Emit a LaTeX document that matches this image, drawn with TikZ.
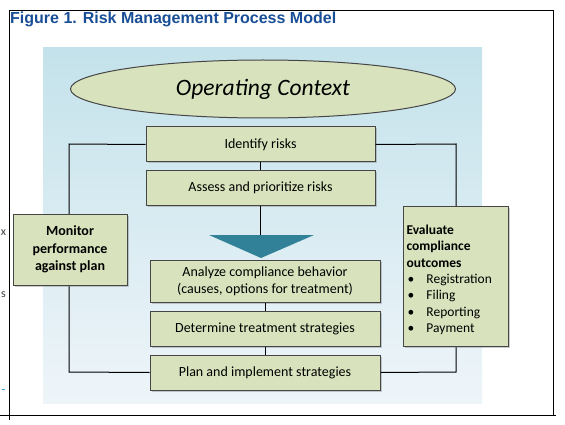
\documentclass[tikz,border=0pt]{standalone}
\usepackage{fontspec}
\setmainfont{Carlito}
\newfontfamily\titlefont{Liberation Sans}
\usetikzlibrary{shapes.geometric,shadows}
\definecolor{boxgreen}{RGB}{216,226,188}
\definecolor{boxline}{RGB}{70,70,70}
\definecolor{teal}{RGB}{49,130,152}
\definecolor{titleblue}{RGB}{24,78,150}
\definecolor{bgtop}{RGB}{196,226,235}
\definecolor{bgbot}{RGB}{238,245,249}
\newcommand{\bulitem}[1]{\makebox[20pt][l]{\hspace{1pt}\textbullet}#1}
\begin{document}
\begin{tikzpicture}[x=1pt,y=-1pt,
  stepbox/.style={draw=boxline, line width=1pt, fill=boxgreen, drop shadow={shadow xshift=1.5pt, shadow yshift=-1.5pt, opacity=0.4}, font=\fontsize{14}{17}\selectfont, align=center, inner sep=0pt},
  link/.style={draw=black, line width=1pt}]
\useasboundingbox (0,0) rectangle (565,425);
\fill[white] (0,0) rectangle (565,425);
% frame
\draw[line width=0.9pt] (9,420) -- (9,10) -- (553,10) -- (553,415);
\draw[line width=0.9pt] (0,415) -- (556,415);
\node[anchor=west, font=\titlefont\bfseries\fontsize{16}{18}\selectfont, text=titleblue, inner sep=0pt] (title) at (10,19.5) {Figure 1. Risk Management Process Model};
% stray fragments at left edge
\node[font=\fontsize{12}{14}\selectfont, text=black!75, inner sep=0pt] (fx) at (3.5,233) {x};
\node[font=\fontsize{12}{14}\selectfont, text=black!75, inner sep=0pt] (fs) at (3.5,295) {s};
\node[font=\fontsize{12}{14}\selectfont, text=cyan!70!blue, inner sep=0pt] (fd) at (3.5,392) {-};
% background
\shade[top color=bgtop, bottom color=bgbot] (43,48) rectangle (482,403);
% ellipse
\node[ellipse, draw=boxline, line width=1pt, fill=boxgreen, minimum width=385pt, minimum height=58pt, font=\itshape\fontsize{23.5}{26}\selectfont] (ctx) at (263,89) {Operating Context};
% loop corners
\coordinate (lt) at (69,144);
\coordinate (lb) at (69,372);
\coordinate (rt) at (456,144);
\coordinate (rb) at (456,372);
% boxes
\node[stepbox, minimum width=229pt, minimum height=35pt] (id) at (260.5,144.5) {Identify risks};
\node[stepbox, minimum width=229pt, minimum height=34pt] (as) at (260.5,188) {Assess and prioritize risks};
\fill[teal] (209,235) -- (314,235) -- (261,258) -- cycle;
\coordinate (tritop) at (260.5,235);
\node[stepbox, minimum width=230pt, minimum height=42pt] (an) at (265,281) {Analyze compliance behavior\\(causes, options for treatment)};
\node[stepbox, minimum width=230pt, minimum height=35pt] (dt) at (265,328.5) {Determine treatment strategies};
\node[stepbox, minimum width=230pt, minimum height=35pt] (pl) at (265,372.5) {Plan and implement strategies};
\draw[link] (id.west) -- (lt) -- (lb) -- (pl.west);
\draw[link] (id.east) -- (rt) -- (rb) -- (pl.east);
\draw[link] (id.south) -- (as.north);
\draw[link] (as.south) -- (tritop);
\draw[link] (an.south) -- (dt.north);
\draw[link] (dt.south) -- (pl.north);
% side boxes
\node[stepbox, minimum width=114pt, minimum height=71pt, font=\bfseries\fontsize{14}{17.5}\selectfont] (mon) at (70,249.5) {Monitor\\performance\\against plan};
\node[stepbox, minimum width=105pt, minimum height=140pt, align=left, anchor=north west, text width=99pt, inner xsep=3pt, inner ysep=0pt, font=\fontsize{13.5}{16.3}\selectfont] (ev) at (403,206) {\rule{0pt}{16pt}\textbf{Evaluate}\\\textbf{compliance}\\\textbf{outcomes}\\\bulitem{Registration}\\\bulitem{Filing}\\\bulitem{Reporting}\\\bulitem{Payment}\\[6pt]};
\end{tikzpicture}
\end{document}
